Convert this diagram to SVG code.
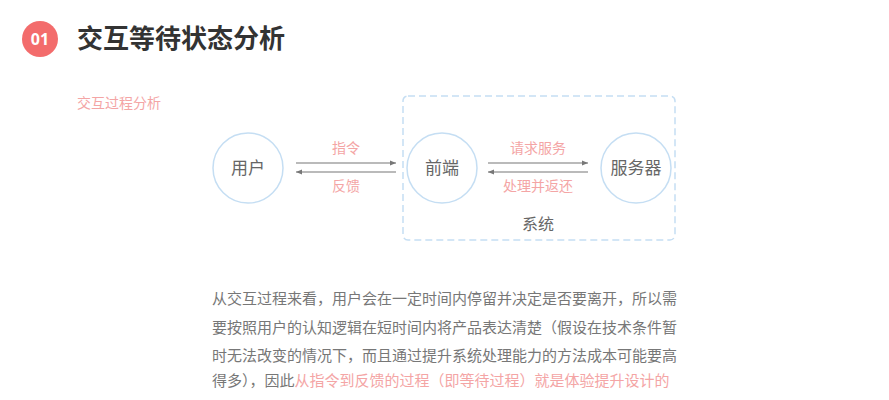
<svg xmlns="http://www.w3.org/2000/svg" width="889" height="400" viewBox="0 0 889 400">
<style>
text{font-family:"Noto Sans CJK SC","Noto Sans",sans-serif}
.c{fill:#fff;stroke:#c5def3;stroke-width:1.5}
.n{font-size:17px;fill:#666;text-anchor:middle}
.l{font-size:14px;fill:#f4a5a5;text-anchor:middle}
.a{stroke:#777;stroke-width:1.2;fill:none}
.p{font-size:15px;fill:#777}
</style>
<defs><marker id="m" markerWidth="6" markerHeight="6" refX="5" refY="3" orient="auto"><path d="M0,1 L5,3 L0,5z" fill="#777"/></marker></defs>
<rect width="889" height="400" fill="#fff"/>
<circle cx="40" cy="39" r="18" fill="#f36c6c"/>
<text x="40" y="45" font-size="16" font-weight="bold" fill="#fff" text-anchor="middle" style="font-family:'Noto Sans',sans-serif">01</text>
<text x="77" y="48" font-size="26" font-weight="bold" fill="#333">交互等待状态分析</text>
<text x="77" y="108" font-size="14" fill="#f4a5a5">交互过程分析</text>
<rect x="403" y="96" width="272" height="144" rx="5" fill="none" stroke="#c5def3" stroke-width="1.5" stroke-dasharray="7,4"/>
<text x="538" y="230" class="n" style="font-size:16px">系统</text>
<g id="user"><circle class="c" cx="248" cy="168" r="35"/><text class="n" x="248" y="174">用户</text></g>
<g id="front"><circle class="c" cx="442" cy="168" r="35"/><text class="n" x="442" y="174">前端</text></g>
<g id="server"><circle class="c" cx="636" cy="168" r="35"/><text class="n" x="636" y="174">服务器</text></g>
<g id="connectors">
<line class="a" x1="296" y1="163" x2="396" y2="163" marker-end="url(#m)"/>
<line class="a" x1="396" y1="172" x2="296" y2="172" marker-end="url(#m)"/>
<line class="a" x1="488" y1="163" x2="588" y2="163" marker-end="url(#m)"/>
<line class="a" x1="588" y1="172" x2="488" y2="172" marker-end="url(#m)"/>
<text class="l" x="346" y="153">指令</text>
<text class="l" x="346" y="191">反馈</text>
<text class="l" x="538" y="153">请求服务</text>
<text class="l" x="538" y="191">处理并返还</text>
</g>
<text class="p" x="212" y="304">从交互过程来看，用户会在一定时间内停留并决定是否要离开，所以需</text>
<text class="p" x="212" y="333">要按照用户的认知逻辑在短时间内将产品表达清楚（假设在技术条件暂</text>
<text class="p" x="212" y="361">时无法改变的情况下，而且通过提升系统处理能力的方法成本可能要高</text>
<text class="p" x="212" y="386">得多），因此<tspan fill="#f4a5a5">从指令到反馈的过程（即等待过程）就是体验提升设计的</tspan></text>
</svg>
